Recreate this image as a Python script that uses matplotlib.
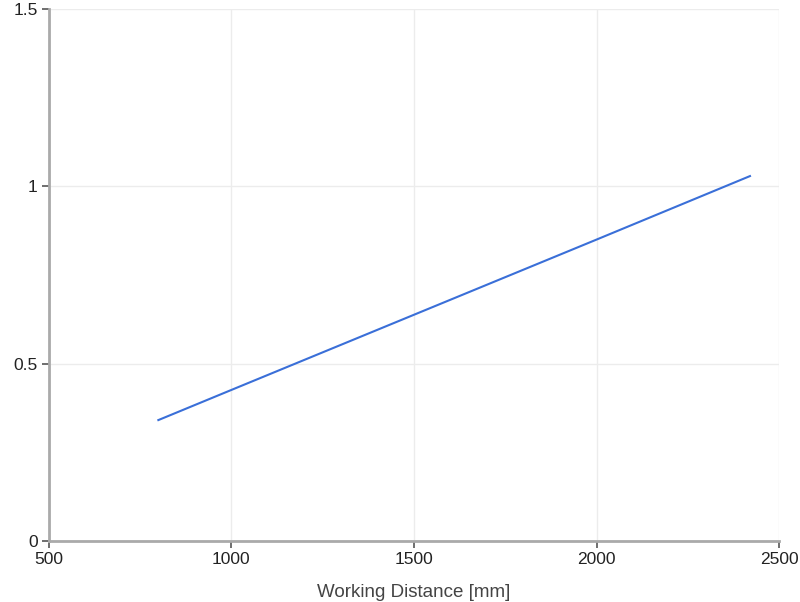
import matplotlib
matplotlib.use("Agg")
import matplotlib.pyplot as plt

# Working distance [mm] vs value
distance = [800, 1000, 1500, 2000, 2420]
value = [0.341, 0.426, 0.638, 0.850, 1.029]

x_ticks = [500, 1000, 1500, 2000, 2500]
y_ticks = [0, 0.5, 1, 1.5]
y_labels = ["0", "0.5", "1", "1.5"]

plt.rcParams['font.family'] = ['Liberation Sans', 'DejaVu Sans']

fig = plt.figure(figsize=(8.0, 6.02), dpi=100)
ax = fig.add_axes([0.061, 0.1013, 0.913, 0.8837])

ax.plot(distance, value, color='#3a6fd8', linewidth=1.5)

ax.set_xlim(500, 2500)
ax.set_ylim(0, 1.5)
ax.set_xticks(x_ticks)
ax.set_yticks(y_ticks)
ax.set_yticklabels(y_labels)
ax.grid(color='#ececec', linewidth=1)
ax.set_axisbelow(True)

for side in ['top', 'right']:
    ax.spines[side].set_visible(False)
for side in ['left', 'bottom']:
    ax.spines[side].set_color('#aaaaaa')
    ax.spines[side].set_linewidth(2)

ax.tick_params(labelcolor='#222222', labelsize=12.5, length=5, width=1.2, color='#555555', pad=3)
ax.set_xlabel('Working Distance [mm]', fontsize=13.5, color='#444444', labelpad=12)

fig.savefig('out.png', dpi=100)
